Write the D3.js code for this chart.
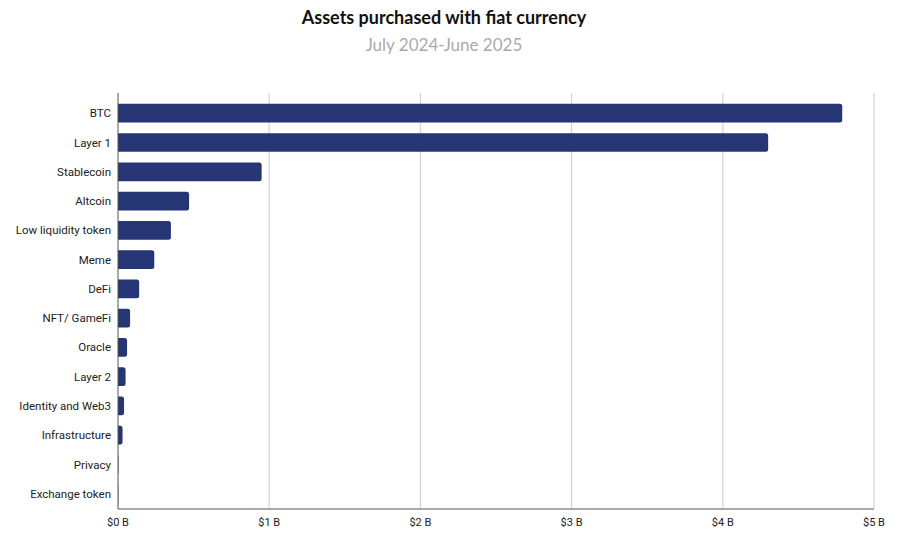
<!DOCTYPE html>
<html><head><meta charset="utf-8">
<script src="https://cdn.jsdelivr.net/npm/d3@7"></script>
<style>body{margin:0;background:#fff}</style></head>
<body><svg id="c" width="904" height="543"></svg>
<script>
const categories = ["BTC","Layer 1","Stablecoin","Altcoin","Low liquidity token","Meme","DeFi","NFT/ GameFi","Oracle","Layer 2","Identity and Web3","Infrastructure","Privacy","Exchange token"];
const values = [4.79,4.30,0.95,0.47,0.35,0.24,0.14,0.08,0.06,0.05,0.04,0.03,0.003,0.002];
const tickValues = [0,1,2,3,4,5];
const tickLabels = ["$0 B","$1 B","$2 B","$3 B","$4 B","$5 B"];

const svg = d3.select("#c");
const m = {l:118, r:874, t:98, b:509};
const x = d3.scaleLinear().domain([0,5]).range([m.l, m.r]);
const y = d3.scaleBand().domain(categories).range([m.t, m.b]).paddingInner(0.36).paddingOuter(0.2);

svg.append("text").attr("x",444).attr("y",24).attr("text-anchor","middle")
  .attr("font-family","Lato").attr("font-weight","bold").attr("font-size",18).attr("fill","#111")
  .text("Assets purchased with fiat currency");
svg.append("text").attr("x",444).attr("y",51).attr("text-anchor","middle")
  .attr("font-family","Lato").attr("font-size",17).attr("fill","#aaa")
  .text("July 2024-June 2025");

svg.append("g").selectAll("line").data(tickValues.slice(1)).join("line")
  .attr("x1",d=>x(d)).attr("x2",d=>x(d)).attr("y1",93).attr("y2",m.b)
  .attr("stroke","#d4d4d4").attr("stroke-width",1.2);

svg.append("g").selectAll("path").data(categories).join("path")
  .attr("fill","#263573")
  .attr("d",(c,i)=>{
    const x0=x(0), x1=x(values[i]), y0=y(c), h=y.bandwidth();
    const r=Math.min(2.5,(x1-x0)/2);
    return `M${x0},${y0}H${x1-r}Q${x1},${y0} ${x1},${y0+r}V${y0+h-r}Q${x1},${y0+h} ${x1-r},${y0+h}H${x0}Z`;
  });

svg.append("g").selectAll("text").data(categories).join("text")
  .attr("x",m.l-7).attr("y",c=>y(c)+y.bandwidth()/2).attr("dy","0.35em")
  .attr("text-anchor","end").attr("font-family","Roboto").attr("font-size",11.5).attr("fill","#222")
  .text(c=>c);

svg.append("line").attr("x1",m.l).attr("x2",m.l).attr("y1",93).attr("y2",m.b).attr("stroke","#555");
svg.append("line").attr("x1",m.l).attr("x2",m.r).attr("y1",m.b).attr("y2",m.b).attr("stroke","#555");

svg.append("g").selectAll("text").data(tickValues).join("text")
  .attr("x",d=>x(d)).attr("y",526).attr("text-anchor","middle")
  .attr("font-family","Roboto").attr("font-size",11).attr("fill","#222")
  .text((d,i)=>tickLabels[i]);
</script></body></html>
